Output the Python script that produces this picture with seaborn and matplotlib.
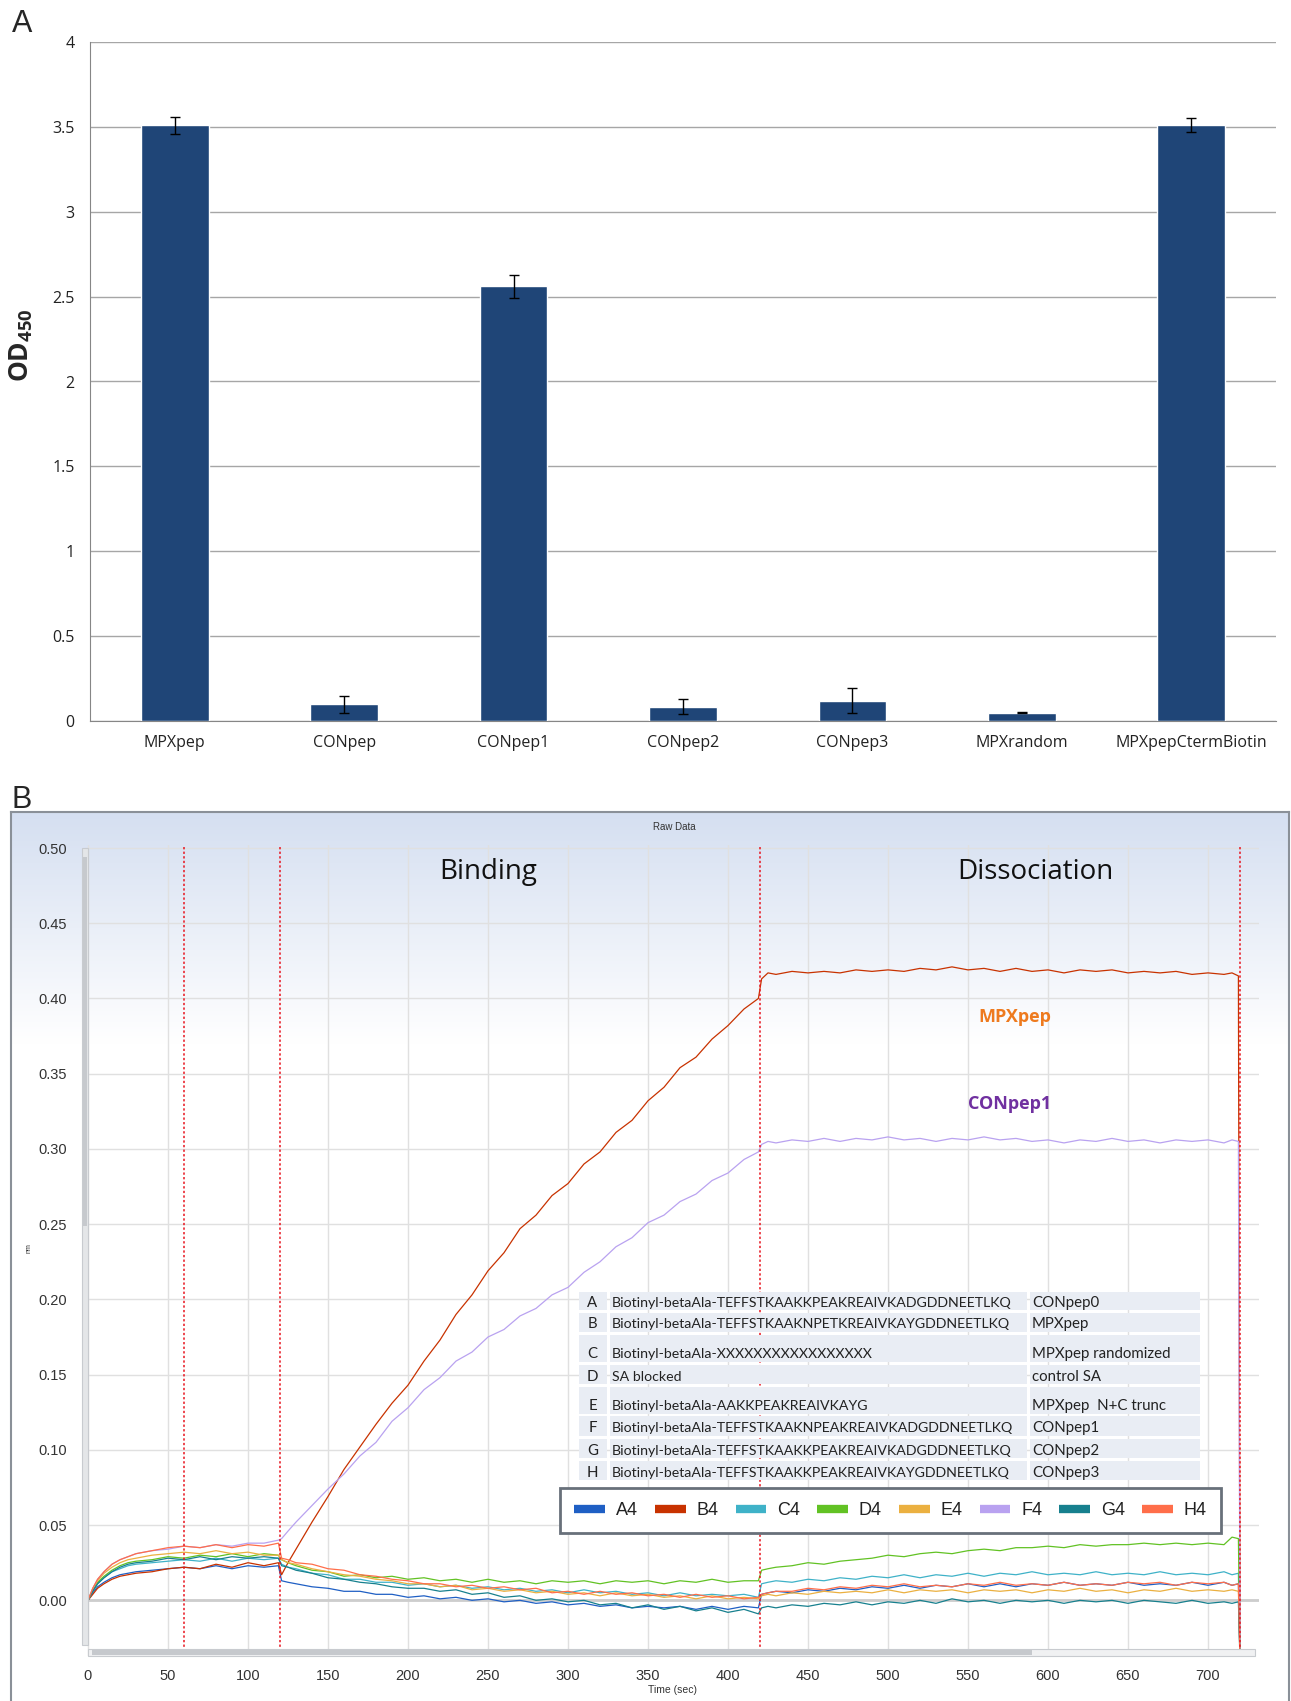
import numpy as np
import pandas as pd
import matplotlib
matplotlib.use('Agg')
import matplotlib.pyplot as plt
import seaborn as sns
from matplotlib.lines import Line2D
from matplotlib.patches import Rectangle

W, H = 1291, 1701

# panel A: ELISA
peptides = ['MPXpep', 'CONpep', 'CONpep1', 'CONpep2', 'CONpep3', 'MPXrandom', 'MPXpepCtermBiotin']
od450 = [3.51, 0.10, 2.56, 0.085, 0.12, 0.05, 3.51]
od450_err = [0.05, 0.05, 0.07, 0.045, 0.075, 0.005, 0.04]

# panel B: raw BLI traces (nm) read at these times (sec)
time_s = ([0, 3, 6, 10, 15, 20, 25, 30, 40, 50,
           60, 70, 80, 90, 100, 110, 119] +
          [121, 125, 130, 140, 150, 160, 170, 180, 190, 200,
           210, 220, 230, 240, 250, 260, 270, 280, 290, 300,
           310, 320, 330, 340, 350, 360, 370, 380, 390, 400,
           410, 419] +
          [421, 425, 430, 440, 450, 460, 470, 480, 490, 500,
           510, 520, 530, 540, 550, 560, 570, 580, 590, 600,
           610, 620, 630, 640, 650, 660, 670, 680, 690, 700,
           710, 715, 719, 720])

trace_A4 = ([0.000, 0.005, 0.009, 0.012, 0.015, 0.017, 0.018, 0.019, 0.020, 0.021,
             0.022, 0.021, 0.023, 0.021, 0.023, 0.022, 0.023] +
            [0.013, 0.012, 0.011, 0.009, 0.008, 0.006, 0.006, 0.004, 0.004, 0.002,
             0.003, 0.001, 0.002, 0.000, 0.001, -0.001, 0.000, -0.002, -0.001, -0.003,
             -0.002, -0.004, -0.003, -0.005, -0.004, -0.005, -0.004, -0.006, -0.004, -0.006,
             -0.004, -0.005] +
            [0.004, 0.005, 0.006, 0.005, 0.007, 0.006, 0.008, 0.007, 0.009, 0.008,
             0.010, 0.008, 0.010, 0.009, 0.011, 0.009, 0.011, 0.009, 0.011, 0.010,
             0.012, 0.010, 0.011, 0.010, 0.012, 0.010, 0.011, 0.010, 0.012, 0.010,
             0.012, 0.010, 0.011, -0.040])
trace_B4 = ([0.000, 0.004, 0.008, 0.011, 0.014, 0.016, 0.017, 0.018, 0.019, 0.021,
             0.022, 0.021, 0.024, 0.022, 0.025, 0.023, 0.025] +
            [0.017, 0.025, 0.034, 0.052, 0.069, 0.087, 0.102, 0.117, 0.131, 0.143,
             0.159, 0.173, 0.190, 0.203, 0.219, 0.231, 0.247, 0.256, 0.269, 0.277,
             0.290, 0.298, 0.311, 0.319, 0.332, 0.341, 0.354, 0.361, 0.373, 0.382,
             0.393, 0.400] +
            [0.413, 0.417, 0.416, 0.418, 0.417, 0.418, 0.417, 0.419, 0.418, 0.419,
             0.418, 0.420, 0.419, 0.421, 0.419, 0.420, 0.418, 0.420, 0.418, 0.419,
             0.417, 0.419, 0.418, 0.419, 0.417, 0.418, 0.417, 0.418, 0.416, 0.417,
             0.416, 0.417, 0.415, -0.040])
trace_C4 = ([0.000, 0.006, 0.011, 0.015, 0.019, 0.021, 0.023, 0.024, 0.025, 0.026,
             0.027, 0.026, 0.028, 0.026, 0.028, 0.027, 0.028] +
            [0.024, 0.022, 0.021, 0.018, 0.017, 0.014, 0.014, 0.012, 0.012, 0.010,
             0.011, 0.009, 0.010, 0.008, 0.009, 0.007, 0.008, 0.006, 0.007, 0.005,
             0.007, 0.005, 0.006, 0.004, 0.005, 0.003, 0.005, 0.003, 0.004, 0.003,
             0.004, 0.002] +
            [0.011, 0.012, 0.013, 0.012, 0.014, 0.013, 0.015, 0.014, 0.016, 0.015,
             0.017, 0.015, 0.017, 0.016, 0.018, 0.016, 0.018, 0.017, 0.019, 0.017,
             0.018, 0.017, 0.019, 0.017, 0.018, 0.017, 0.019, 0.017, 0.018, 0.017,
             0.019, 0.017, 0.018, -0.040])
trace_D4 = ([0.000, 0.007, 0.012, 0.016, 0.020, 0.023, 0.025, 0.026, 0.027, 0.029,
             0.028, 0.030, 0.029, 0.031, 0.029, 0.031, 0.030] +
            [0.027, 0.025, 0.023, 0.020, 0.019, 0.016, 0.017, 0.015, 0.016, 0.014,
             0.015, 0.013, 0.014, 0.012, 0.014, 0.012, 0.013, 0.011, 0.013, 0.012,
             0.013, 0.011, 0.013, 0.012, 0.013, 0.011, 0.013, 0.012, 0.014, 0.012,
             0.013, 0.013] +
            [0.020, 0.021, 0.022, 0.023, 0.025, 0.024, 0.026, 0.027, 0.028, 0.030,
             0.029, 0.031, 0.032, 0.031, 0.033, 0.034, 0.033, 0.035, 0.035, 0.036,
             0.035, 0.037, 0.036, 0.037, 0.037, 0.038, 0.037, 0.038, 0.037, 0.038,
             0.037, 0.042, 0.041, -0.040])
trace_E4 = ([0.000, 0.008, 0.013, 0.018, 0.022, 0.025, 0.027, 0.028, 0.030, 0.031,
             0.032, 0.031, 0.033, 0.031, 0.032, 0.030, 0.030] +
            [0.027, 0.025, 0.024, 0.021, 0.019, 0.017, 0.016, 0.014, 0.013, 0.011,
             0.011, 0.009, 0.010, 0.007, 0.008, 0.006, 0.007, 0.005, 0.006, 0.004,
             0.005, 0.003, 0.005, 0.003, 0.004, 0.002, 0.003, 0.001, 0.003, 0.001,
             0.002, 0.001] +
            [0.003, 0.004, 0.003, 0.005, 0.004, 0.006, 0.005, 0.006, 0.005, 0.007,
             0.005, 0.007, 0.006, 0.007, 0.005, 0.007, 0.006, 0.007, 0.005, 0.007,
             0.006, 0.008, 0.006, 0.007, 0.005, 0.007, 0.006, 0.008, 0.006, 0.007,
             0.006, 0.007, 0.006, -0.040])
trace_F4 = ([0.000, 0.008, 0.014, 0.019, 0.024, 0.027, 0.029, 0.031, 0.033, 0.034,
             0.036, 0.035, 0.037, 0.036, 0.038, 0.038, 0.040] +
            [0.041, 0.046, 0.052, 0.063, 0.074, 0.084, 0.096, 0.105, 0.119, 0.128,
             0.140, 0.148, 0.159, 0.165, 0.175, 0.180, 0.189, 0.194, 0.203, 0.208,
             0.218, 0.225, 0.235, 0.241, 0.251, 0.256, 0.265, 0.270, 0.279, 0.284,
             0.293, 0.298] +
            [0.303, 0.305, 0.304, 0.306, 0.305, 0.307, 0.305, 0.307, 0.306, 0.308,
             0.306, 0.307, 0.305, 0.307, 0.306, 0.308, 0.306, 0.307, 0.305, 0.306,
             0.304, 0.306, 0.305, 0.307, 0.305, 0.306, 0.304, 0.306, 0.305, 0.306,
             0.304, 0.306, 0.305, -0.040])
trace_G4 = ([0.000, 0.006, 0.011, 0.015, 0.019, 0.022, 0.024, 0.025, 0.026, 0.028,
             0.027, 0.029, 0.027, 0.029, 0.028, 0.029, 0.028] +
            [0.023, 0.022, 0.020, 0.018, 0.015, 0.014, 0.012, 0.011, 0.009, 0.008,
             0.008, 0.006, 0.007, 0.004, 0.005, 0.002, 0.003, 0.000, 0.001, -0.001,
             0.000, -0.003, -0.002, -0.005, -0.003, -0.006, -0.004, -0.007, -0.005, -0.008,
             -0.006, -0.009] +
            [-0.005, -0.004, -0.005, -0.003, -0.004, -0.002, -0.003, -0.001, -0.003, -0.001,
             -0.002, 0.000, -0.002, 0.001, -0.001, 0.000, -0.002, 0.000, -0.001, 0.000,
             -0.002, 0.000, -0.001, 0.000, -0.002, 0.000, -0.001, -0.002, 0.000, -0.002,
             -0.001, -0.002, -0.001, -0.040])
trace_H4 = ([0.000, 0.008, 0.014, 0.019, 0.024, 0.027, 0.029, 0.031, 0.033, 0.035,
             0.036, 0.035, 0.037, 0.035, 0.037, 0.036, 0.038] +
            [0.028, 0.027, 0.025, 0.024, 0.021, 0.020, 0.017, 0.016, 0.014, 0.013,
             0.011, 0.011, 0.009, 0.010, 0.008, 0.009, 0.007, 0.008, 0.005, 0.006,
             0.004, 0.006, 0.004, 0.005, 0.003, 0.004, 0.002, 0.004, 0.002, 0.003,
             0.001, 0.002] +
            [0.004, 0.005, 0.006, 0.006, 0.008, 0.007, 0.009, 0.008, 0.010, 0.009,
             0.011, 0.009, 0.010, 0.009, 0.011, 0.010, 0.012, 0.010, 0.011, 0.010,
             0.012, 0.010, 0.011, 0.010, 0.012, 0.011, 0.012, 0.010, 0.012, 0.011,
             0.012, 0.010, 0.011, -0.040])
sensors = ['A4', 'B4', 'C4', 'D4', 'E4', 'F4', 'G4', 'H4']
traces = [trace_A4, trace_B4, trace_C4, trace_D4, trace_E4, trace_F4, trace_G4, trace_H4]
sensor_colors = ['#1F5FC4', '#C83200', '#3FB2C8', '#62C224', '#EBB040', '#B9A2F0', '#17808E', '#FF6E4A']
phase_marks = [60, 120, 420, 720]

table_letters = ['A', 'B', 'C', 'D', 'E', 'F', 'G', 'H']
table_seqs = ['Biotinyl-betaAla-TEFFSTKAAKKPEAKREAIVKADGDDNEETLKQ',
              'Biotinyl-betaAla-TEFFSTKAAKNPETKREAIVKAYGDDNEETLKQ',
              'Biotinyl-betaAla-XXXXXXXXXXXXXXXXX',
              'SA blocked',
              'Biotinyl-betaAla-AAKKPEAKREAIVKAYG',
              'Biotinyl-betaAla-TEFFSTKAAKNPEAKREAIVKADGDDNEETLKQ',
              'Biotinyl-betaAla-TEFFSTKAAKKPEAKREAIVKADGDDNEETLKQ',
              'Biotinyl-betaAla-TEFFSTKAAKKPEAKREAIVKAYGDDNEETLKQ']
table_names = ['CONpep0', 'MPXpep', 'MPXpep randomized', 'control SA',
               'MPXpep  N+C trunc', 'CONpep1', 'CONpep2', 'CONpep3']


def fx(x):
    return x / W


def fy(y):
    return 1 - y / H


sns.set_style('white')
plt.rcParams['font.family'] = ['Open Sans', 'DejaVu Sans']
plt.rcParams['mathtext.fontset'] = 'custom'
plt.rcParams['mathtext.rm'] = 'Open Sans'
plt.rcParams['mathtext.bf'] = 'Open Sans:bold'

fig = plt.figure(figsize=(W / 100, H / 100), dpi=100)

# ---------------- panel A
axA = fig.add_axes([fx(90), fy(721), fx(1276) - fx(90), fy(42) - fy(721)])
sns.barplot(x=peptides, y=od450, color='#1F4577', width=0.4, saturation=1, ax=axA, zorder=3)
axA.errorbar(range(len(peptides)), od450, yerr=od450_err, fmt='none', ecolor='black',
             elinewidth=1, capsize=3.5, capthick=1, zorder=4)
axA.set_xlim(-0.5, 6.5)
axA.set_ylim(0, 4)
axA.set_yticks(np.arange(0, 4.01, 0.5))
axA.set_yticklabels(['0', '0.5', '1', '1.5', '2', '2.5', '3', '3.5', '4'])
axA.set_xticks(np.arange(-0.5, 7, 1), minor=True)
axA.yaxis.grid(True, color='#A6A6A6', lw=1)
axA.set_axisbelow(True)
axA.tick_params(axis='x', which='major', length=0, pad=10, labelsize=11.5, labelcolor='#222222')
axA.tick_params(axis='x', which='minor', length=6, color='#868686', direction='out', width=1)
axA.tick_params(axis='y', length=5, color='#868686', direction='out', labelsize=11.5, pad=6, labelcolor='#222222')
axA.set_xlabel('')
axA.set_ylabel('')
for s in ['top', 'right']:
    axA.spines[s].set_visible(False)
for s in ['left', 'bottom']:
    axA.spines[s].set_color('#868686')
fig.text(fx(21), fy(345), r'$\mathbf{OD_{450}}$', rotation=90, fontsize=19, ha='center', va='center')
fig.text(fx(12), fy(32), 'A', fontsize=22, family='Liberation Sans', ha='left', va='baseline')

# ---------------- panel B
fig.text(fx(11), fy(808), 'B', fontsize=22, family='Liberation Sans', ha='left', va='baseline')

bg = fig.add_axes([fx(11), 0, fx(1289) - fx(11), fy(812)], zorder=-1)
frac = np.clip(np.linspace(0, 1, 400) / 0.26, 0, 1)
top = np.array([0.835, 0.875, 0.945])
img = top[None, :] * (1 - frac[:, None]) + frac[:, None]
bg.imshow(img[:, None, :], aspect='auto', extent=(0, 1, 0, 1))
bg.set_xticks([])
bg.set_yticks([])
for s in bg.spines.values():
    s.set_color('#8A9098')
    s.set_linewidth(1.5)
bg.spines['bottom'].set_visible(False)

axB = fig.add_axes([fx(84.8), fy(1656), fx(1259.2) - fx(84.8), fy(845) - fy(1656)])
axB.patch.set_alpha(0)
df = pd.DataFrame({'time': np.tile(time_s, len(sensors)),
                   'nm': np.concatenate(traces),
                   'sensor': np.repeat(sensors, len(time_s))})
sns.lineplot(data=df, x='time', y='nm', hue='sensor', palette=dict(zip(sensors, sensor_colors)),
             lw=0.9, legend=False, ax=axB, sort=False, estimator=None, zorder=3)
for t in phase_marks:
    axB.axvline(t, color='#E8141E', ls=(0, (1.5, 1.5)), lw=1.1, zorder=4)
axB.axhline(0, color='#CDCDCD', lw=2, zorder=1)

axB.set_xlim(-2, 732)
axB.set_ylim(-0.037, 0.502)
axB.set_xticks(range(0, 701, 50))
axB.set_xticks(range(0, 731, 10), minor=True)
axB.set_yticks(np.arange(0, 0.501, 0.05))
axB.set_yticklabels(['%.2f' % v for v in np.arange(0, 0.501, 0.05)])
axB.set_yticks(np.arange(-0.03, 0.501, 0.01), minor=True)
axB.grid(True, which='major', color='#E0E0E0', lw=1, zorder=0)
axB.tick_params(axis='both', which='major', length=5, color='#A0A0A0', labelsize=10.5,
                labelcolor='#333333', labelfontfamily='Liberation Sans')
axB.tick_params(axis='x', which='major', pad=4)
axB.tick_params(axis='y', which='major', pad=8)
axB.tick_params(axis='both', which='minor', length=3, color='#B0B0B0')
axB.set_xlabel('')
axB.set_ylabel('')
for s in axB.spines.values():
    s.set_visible(False)

axB.text(250, 0.484, 'Binding', fontsize=20, ha='center', va='center', color='#111111')
axB.text(592, 0.484, 'Dissociation', fontsize=20, ha='center', va='center', color='#111111')
axB.text(579, 0.388, 'MPXpep', fontsize=13, fontweight='bold', color='#EE7A1E', ha='center', va='center')
axB.text(576, 0.330, 'CONpep1', fontsize=13, fontweight='bold', color='#7030A0', ha='center', va='center')

fig.text(fx(674), fy(827), 'Raw Data', fontsize=7, family='Liberation Sans', ha='center', va='center', color='#333333')
fig.text(fx(673), fy(1690), 'Time (sec)', fontsize=7.5, family='Liberation Sans', ha='center', va='center', color='#333333')
fig.text(fx(29), fy(1248), 'nm', fontsize=5, family='Liberation Sans', rotation=90, ha='center', va='center')

# scroll bars
fig.add_artist(Rectangle((fx(82), fy(1645)), fx(6), fy(848) - fy(1645), transform=fig.transFigure,
                         facecolor='#E4E6E8', edgecolor='#C8CBCF', lw=0.8))
fig.add_artist(Rectangle((fx(83), fy(1226)), fx(4), fy(857) - fy(1226), transform=fig.transFigure,
                         facecolor='#C6C9CD', edgecolor='none'))
fig.add_artist(Rectangle((fx(88), fy(1656)), fx(1167), fy(1649) - fy(1656), transform=fig.transFigure,
                         facecolor='#F0F1F2', edgecolor='#C8CBCF', lw=0.8))
fig.add_artist(Rectangle((fx(92), fy(1655)), fx(940), fy(1650) - fy(1655), transform=fig.transFigure,
                         facecolor='#C6C9CD', edgecolor='none'))

# peptide table
col_x = [577, 608, 1028, 1201]
row_y = [1290, 1311, 1333.5, 1363, 1385, 1415, 1437, 1459, 1481]
text_y = [1303, 1324, 1353.5, 1376.5, 1406, 1428, 1450.5, 1472.5]
for i in range(len(table_letters)):
    for j in range(3):
        fig.add_artist(Rectangle((fx(col_x[j] + 1.5), fy(row_y[i + 1] - 1.5)),
                                 fx(col_x[j + 1] - col_x[j] - 3), fy(row_y[i] + 1.5) - fy(row_y[i + 1] - 1.5),
                                 transform=fig.transFigure, facecolor='#E9EDF4', edgecolor='none'))
    fig.text(fx(592.5), fy(text_y[i]), table_letters[i], fontsize=10.8, family='Lato', ha='center', va='center', color='#222222')
    fig.text(fx(612), fy(text_y[i]), table_seqs[i], fontsize=10.2, family='Lato', ha='left', va='center', color='#222222')
    fig.text(fx(1032), fy(text_y[i]), table_names[i], fontsize=10.8, family='Lato', ha='left', va='center', color='#222222')

# sensor legend
handles = [Line2D([], [], color=c, lw=6, solid_capstyle='butt') for c in sensor_colors]
leg = fig.legend(handles, sensors, loc='center', bbox_to_anchor=(fx(890.5), fy(1510.5)), ncol=8,
                 frameon=True, fancybox=False, edgecolor='#68707A', facecolor='white', framealpha=1,
                 handlelength=1.7, handletextpad=0.6, columnspacing=0.95, borderpad=0.8,
                 prop={'family': 'Liberation Sans', 'size': 13})
leg.get_frame().set_linewidth(2)
for txt in leg.get_texts():
    txt.set_color('#222222')

fig.savefig('out.png', dpi=100)
